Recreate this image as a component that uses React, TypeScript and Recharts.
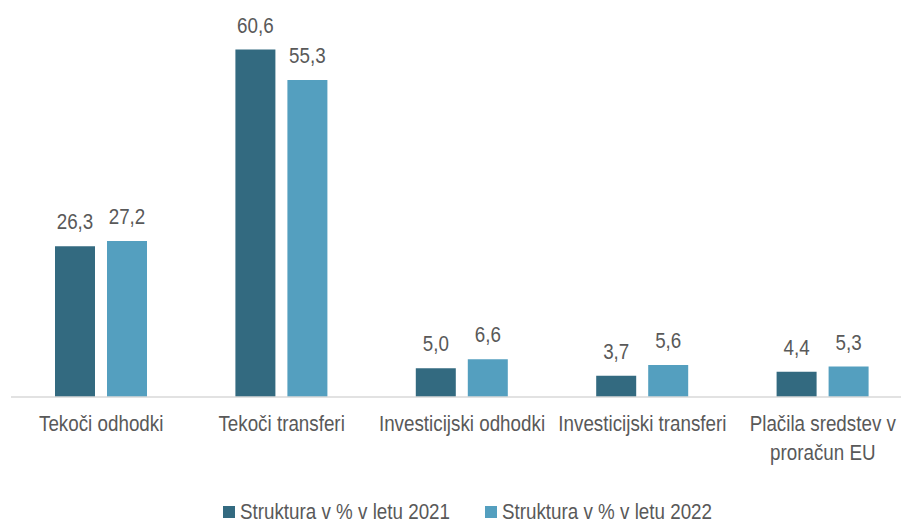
import React from 'react';
import { BarChart, Bar, XAxis, YAxis, Legend, LabelList } from 'recharts';

const categories: string[][] = [
  ['Tekoči odhodki'],
  ['Tekoči transferi'],
  ['Investicijski odhodki'],
  ['Investicijski transferi'],
  ['Plačila sredstev v', 'proračun EU'],
];
const values2021: number[] = [26.3, 60.6, 5.0, 3.7, 4.4];
const values2022: number[] = [27.2, 55.3, 6.6, 5.6, 5.3];
const seriesNames: string[] = ['Struktura v % v letu 2021', 'Struktura v % v letu 2022'];

const data = categories.map((c, i) => ({
  name: c.join(' '),
  v2021: values2021[i],
  v2022: values2022[i],
}));

const FONT = "'Liberation Sans', Arial, sans-serif";
const TEXT = '#595959';
const DARK = '#336A80';
const LIGHT = '#549FBF';
const SX = 0.855;

const fmt = (v: any) => Number(v).toFixed(1).replace('.', ',');

const NarrowText = ({ x, y, anchor = 'middle', children }: any) => (
  <g transform={`translate(${x},${y}) scale(${SX},1)`}>
    <text x={0} y={0} textAnchor={anchor} fill={TEXT} fontSize={22} fontFamily={FONT}>
      {children}
    </text>
  </g>
);

const Tick = (props: any) => {
  const { x, y, index } = props;
  const lines = categories[index] || [];
  return (
    <g>
      {lines.map((l, i) => (
        <NarrowText key={i} x={x} y={y + 34 + i * 29}>{l}</NarrowText>
      ))}
    </g>
  );
};

const BarLabel = (props: any) => {
  const { x, y, width, value } = props;
  return <NarrowText x={Number(x) + Number(width) / 2} y={Number(y) - 17}>{fmt(value)}</NarrowText>;
};

const LegendContent = () => (
  <svg width={500} height={22} style={{ display: 'block', overflow: 'visible' }}>
    {seriesNames.map((n, i) => {
      const x0 = i === 0 ? 0 : 262;
      return (
        <g key={i}>
          <rect x={x0} y={6} width={12} height={12} fill={i === 0 ? DARK : LIGHT} />
          <NarrowText x={x0 + 17} y={19} anchor="start">{n}</NarrowText>
        </g>
      );
    })}
  </svg>
);

export default function App() {
  return (
    <div style={{ position: 'fixed', left: 0, top: 0, width: 901, height: 523, overflow: 'hidden', background: '#fff' }}>
      <BarChart
        width={913}
        height={523}
        data={data}
        margin={{ top: 10, right: 0, left: 11, bottom: 66 }}
        barGap={12}
        barSize={40}
      >
        <XAxis
          dataKey="name"
          height={60}
          interval={0}
          tickLine={false}
          tickSize={0}
          tickMargin={0}
          axisLine={{ stroke: '#D9D9D9', strokeWidth: 1.5 }}
          tick={<Tick />}
        />
        <YAxis hide domain={[0, 67.5]} />
        <Legend
          verticalAlign="middle"
          layout="horizontal"
          content={<LegendContent />}
          wrapperStyle={{ position: 'absolute', left: 223, top: 500, width: 500 }}
        />
        <Bar dataKey="v2021" name={seriesNames[0]} fill={DARK} isAnimationActive={false}>
          <LabelList dataKey="v2021" content={<BarLabel />} />
        </Bar>
        <Bar dataKey="v2022" name={seriesNames[1]} fill={LIGHT} isAnimationActive={false}>
          <LabelList dataKey="v2022" content={<BarLabel />} />
        </Bar>
      </BarChart>
    </div>
  );
}
